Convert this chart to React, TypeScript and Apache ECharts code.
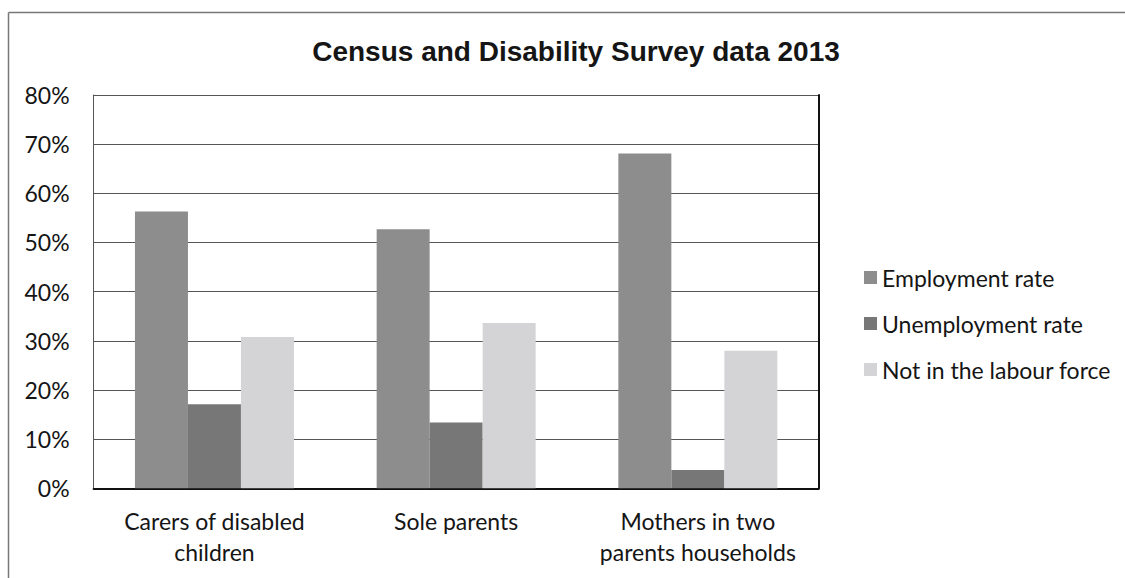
import React, { useEffect, useRef } from "react";
import * as echarts from "echarts";

const categories = [
  "Carers of disabled\nchildren",
  "Sole parents",
  "Mothers in two\nparents households",
];
const employmentRate = [56.3, 52.7, 68.1];
const unemploymentRate = [17.1, 13.4, 3.7];
const notInLabourForce = [30.8, 33.6, 28.0];
const seriesNames = ["Employment rate", "Unemployment rate", "Not in the labour force"];
const seriesColors = ["#8d8d8d", "#777777", "#d4d4d6"];
const yTicks = { min: 0, max: 80, interval: 10 };

const LABEL_FONT = "Lato, 'Open Sans', sans-serif";

export default function App() {
  const ref = useRef<HTMLDivElement>(null);

  useEffect(() => {
    document.body.style.margin = "0";
    if (!ref.current) return;
    const chart = echarts.init(ref.current, undefined, { renderer: "svg" });
    const values = [employmentRate, unemploymentRate, notInLabourForce];
    chart.setOption({
      animation: false,
      backgroundColor: "#ffffff",
      title: {
        text: "Census and Disability Survey data 2013",
        left: 571,
        top: 32,
        textAlign: "center",
        textStyle: {
          fontFamily: "'Liberation Sans', Arial, sans-serif",
          fontWeight: "bold",
          fontSize: 28,
          color: "#151515",
        },
      },
      legend: {
        orient: "vertical",
        left: 859,
        top: 261,
        itemWidth: 13,
        itemHeight: 13,
        itemGap: 23,
        icon: "rect",
        data: seriesNames,
        textStyle: {
          fontFamily: LABEL_FONT,
          fontSize: 23,
          lineHeight: 22,
          color: "#151515",
        },
      },
      grid: { left: 93.6, right: 306.3, top: 95, bottom: 89.7 },
      xAxis: [
        {
          type: "category",
          data: categories,
          axisTick: { show: false },
          axisLine: { lineStyle: { color: "#555555", width: 1 } },
          axisLabel: {
            interval: 0,
            hideOverlap: false,
            fontFamily: LABEL_FONT,
            fontSize: 23,
            lineHeight: 31,
            margin: 17,
            color: "#151515",
          },
        },
        {
          type: "category",
          position: "top",
          data: categories,
          axisTick: { show: false },
          axisLabel: { show: false },
          axisLine: { lineStyle: { color: "#111111", width: 2 } },
        },
      ],
      yAxis: [
        {
          type: "value",
          min: yTicks.min,
          max: yTicks.max,
          interval: yTicks.interval,
          axisLine: { show: true, lineStyle: { color: "#555555", width: 1 } },
          axisTick: { show: false },
          splitLine: { lineStyle: { color: "#555555", width: 1.2 } },
          axisLabel: {
            formatter: "{value}%",
            fontFamily: LABEL_FONT,
            fontSize: 23,
            margin: 24,
            color: "#151515",
          },
        },
        {
          type: "value",
          position: "right",
          min: yTicks.min,
          max: yTicks.max,
          interval: yTicks.interval,
          axisLine: { show: true, lineStyle: { color: "#111111", width: 2 } },
          axisTick: { show: false },
          axisLabel: { show: false },
          splitLine: { show: false },
        },
      ],
      series: seriesNames.map((name, i) => ({
        name,
        type: "bar",
        data: values[i],
        barWidth: 53,
        barGap: "0%",
        itemStyle: { color: seriesColors[i] },
      })),
      graphic: [
        {
          type: "line",
          shape: { x1: 8.5, y1: 12.5, x2: 1125, y2: 12.5 },
          style: { stroke: "#777777", lineWidth: 1.5 },
          silent: true,
        },
        {
          type: "line",
          shape: { x1: 8.5, y1: 12.5, x2: 8.5, y2: 578 },
          style: { stroke: "#777777", lineWidth: 1.5 },
          silent: true,
        },
      ],
    });
    return () => chart.dispose();
  }, []);

  return <div ref={ref} style={{ width: 1125, height: 578 }} />;
}
